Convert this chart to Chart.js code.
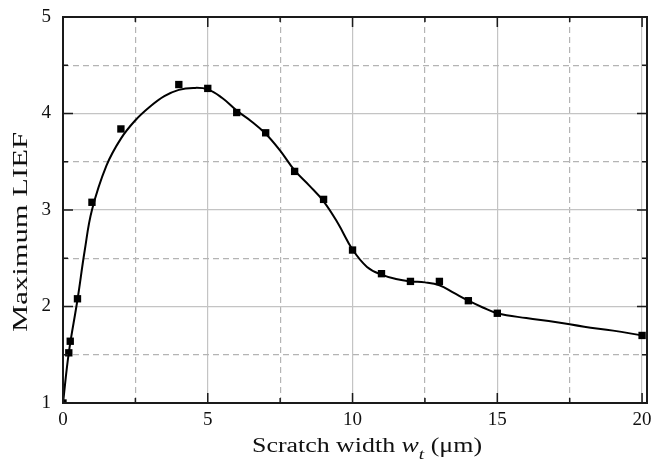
<!DOCTYPE html>
<html>
<head>
<meta charset="utf-8">
<script src="https://cdn.jsdelivr.net/npm/chart.js@4"></script>
<style>
  html, body { margin: 0; padding: 0; background: #fff; }
</style>
</head>
<body>
<canvas id="grafico" width="655" height="463"></canvas>
<script>
// Puntos medidos (cuadrados negros)
const puntosX = [0, 0.2, 0.25, 0.5, 1, 2, 4, 5, 6, 7, 8, 9, 10, 11, 12, 13, 14, 15, 20];
const puntosY = [1.0, 1.52, 1.64, 2.08, 3.08, 3.84, 4.30, 4.26, 4.01, 3.80, 3.40, 3.11, 2.585, 2.34, 2.26, 2.26, 2.06, 1.93, 1.70];

// Curva ajustada (linea continua)
const curvaX = [0, 0.2, 0.5, 0.75, 1, 1.5, 2, 2.5, 3, 3.5, 4, 4.5, 5, 5.5, 6, 6.5, 7, 7.5, 8, 8.5, 9, 9.5, 10, 10.5, 11, 11.5, 12, 12.5, 13, 13.5, 14, 14.5, 15, 16, 17, 18, 19, 20];
const curvaY = [1.0, 1.52, 2.07, 2.58, 3.0, 3.46, 3.74, 3.93, 4.07, 4.18, 4.245, 4.265, 4.25, 4.16, 4.03, 3.92, 3.79, 3.615, 3.41, 3.255, 3.09, 2.86, 2.59, 2.41, 2.33, 2.285, 2.26, 2.25, 2.22, 2.14, 2.06, 1.99, 1.93, 1.88, 1.84, 1.79, 1.75, 1.70];

// Etiquetas de los ejes
const tituloY = 'Maximum LIEF';
const tituloX = [
    { texto: 'Scratch width ', estilo: 'normal' },
    { texto: 'w', estilo: 'italic' },
    { texto: 't', estilo: 'italic', sub: true },
    { texto: ' (\u03bcm)', estilo: 'normal' }
];

const fuente = '"Liberation Serif", "Times New Roman", "DejaVu Serif", serif';

function esMayorX(v) { return Math.abs(v % 5) < 1e-6; }
function esMayorY(v) { return Math.abs(v - Math.round(v)) < 1e-6; }

// Marco, marcas hacia adentro y titulos de los ejes
const pluginMarco = {
    id: 'marco',
    afterDraw(chart) {
        const ctx = chart.ctx;
        const area = chart.chartArea;
        const x = chart.scales.x;
        const y = chart.scales.y;
        ctx.save();
        ctx.strokeStyle = '#1a1a1a';
        ctx.lineWidth = 2;
        ctx.strokeRect(area.left, area.top, area.right - area.left, area.bottom - area.top);

        ctx.lineWidth = 1.5;
        ctx.beginPath();
        x.ticks.forEach(t => {
            const px = x.getPixelForValue(t.value);
            const largo = esMayorX(t.value) ? 10 : 5;
            ctx.moveTo(px, area.bottom); ctx.lineTo(px, area.bottom - largo);
            ctx.moveTo(px, area.top); ctx.lineTo(px, area.top + largo);
        });
        y.ticks.forEach(t => {
            const py = y.getPixelForValue(t.value);
            const largo = esMayorY(t.value) ? 10 : 5;
            ctx.moveTo(area.left, py); ctx.lineTo(area.left + largo, py);
            ctx.moveTo(area.right, py); ctx.lineTo(area.right - largo, py);
        });
        ctx.stroke();

        // Titulo eje X con w en cursiva y subindice t
        ctx.fillStyle = '#111';
        ctx.textBaseline = 'alphabetic';
        ctx.textAlign = 'left';
        let total = 0;
        const anchos = tituloX.map(p => {
            ctx.font = p.estilo + ' ' + (p.sub ? 15 : 20) + 'px ' + fuente;
            const w = ctx.measureText(p.texto).width;
            total += w;
            return w;
        });
        const escalaX = 230 / total;
        ctx.save();
        ctx.translate(367 - 115, 452);
        ctx.scale(escalaX, 1);
        let cursor = 0;
        tituloX.forEach((p, i) => {
            ctx.font = p.estilo + ' ' + (p.sub ? 15 : 20) + 'px ' + fuente;
            ctx.fillText(p.texto, cursor, p.sub ? 7 : 0);
            cursor += anchos[i];
        });
        ctx.restore();

        // Titulo eje Y
        ctx.save();
        ctx.font = '21px ' + fuente;
        const anchoY = ctx.measureText(tituloY).width;
        ctx.translate(27, 232);
        ctx.rotate(-Math.PI / 2);
        ctx.scale(200 / anchoY, 1);
        ctx.textAlign = 'center';
        ctx.fillText(tituloY, 0, 0);
        ctx.restore();

        ctx.restore();
    }
};

function generarGrafico() {
    const ctx = document.getElementById('grafico').getContext('2d');

    return new Chart(ctx, {
        data: {
            datasets: [
                {
                    type: 'scatter',
                    data: puntosX.map((v, i) => ({ x: v, y: puntosY[i] })),
                    pointStyle: 'rect',
                    pointRadius: 5.2,
                    backgroundColor: '#000',
                    borderWidth: 0,
                    clip: 0,
                    order: 0
                },
                {
                    type: 'line',
                    data: curvaX.map((v, i) => ({ x: v, y: curvaY[i] })),
                    borderColor: '#000',
                    borderWidth: 2,
                    pointRadius: 0,
                    fill: false,
                    tension: 0.4,
                    order: 1
                }
            ]
        },
        options: {
            responsive: false,
            animation: false,
            devicePixelRatio: 1,
            layout: { padding: { left: 0, right: 8, top: 17, bottom: 0 } },
            plugins: {
                legend: { display: false },
                tooltip: { enabled: false }
            },
            scales: {
                x: {
                    type: 'linear',
                    min: 0,
                    max: 20.17,
                    border: {
                        display: false,
                        dash: c => (c.tick && esMayorX(c.tick.value)) ? [] : [6, 4]
                    },
                    grid: {
                        drawTicks: false,
                        color: c => (c.tick && esMayorX(c.tick.value)) ? '#c4c4c4' : '#b4b4b4',
                        lineWidth: 1.2
                    },
                    ticks: {
                        stepSize: 2.5,
                        includeBounds: false,
                        autoSkip: false,
                        maxRotation: 0,
                        padding: 6,
                        color: '#111',
                        font: { family: fuente, size: 19 },
                        callback: v => esMayorX(v) ? String(v) : ''
                    },
                    afterFit: s => { s.height = 60; s.paddingLeft = 0; s.paddingRight = 0; }
                },
                y: {
                    type: 'linear',
                    min: 1,
                    max: 5,
                    border: {
                        display: false,
                        dash: c => (c.tick && esMayorY(c.tick.value)) ? [] : [6, 4]
                    },
                    grid: {
                        drawTicks: false,
                        color: c => (c.tick && esMayorY(c.tick.value)) ? '#c4c4c4' : '#b4b4b4',
                        lineWidth: 1.2
                    },
                    ticks: {
                        stepSize: 0.5,
                        autoSkip: false,
                        padding: 12,
                        color: '#111',
                        font: { family: fuente, size: 19 },
                        callback: v => esMayorY(v) ? String(v) : ''
                    },
                    afterFit: s => { s.width = 63; s.paddingTop = 0; s.paddingBottom = 0; }
                }
            }
        },
        plugins: [pluginMarco]
    });
}

generarGrafico();
</script>
</body>
</html>
